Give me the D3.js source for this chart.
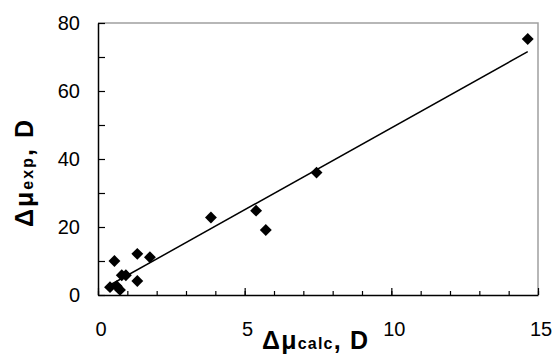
<!DOCTYPE html>
<html><head><meta charset="utf-8">
<script src="https://cdn.jsdelivr.net/npm/d3@7"></script>
<style>
body{margin:0;background:#fff;}
svg{display:block;font-family:"Liberation Sans",Arial,sans-serif;}
</style></head>
<body><svg id="c" width="554" height="359"></svg>
<script>
const calc = [0.41, 0.64, 0.75, 0.56, 0.81, 0.95, 1.34, 1.34, 1.77, 3.85, 5.39, 5.72, 7.45, 14.65];
const expv = [2.3, 2.6, 1.5, 10.0, 5.8, 5.8, 12.1, 4.1, 11.1, 22.8, 24.8, 19.1, 36.0, 75.3];
const fitSlope = 4.82, fitIntercept = 0.96;
const xTicks = [0, 5, 10, 15];
const yTicks = [0, 20, 40, 60, 80];

const svg = d3.select("#c");
const L = 98, R = 538, T = 23, B = 295;
const x = d3.scaleLinear().domain([0, 15]).range([L, R]);
const y = d3.scaleLinear().domain([0, 80]).range([B, T]);

// frame top/right gray
svg.append("path").attr("d", `M${L},${T}H${R}V${B}`).attr("fill","none").attr("stroke","#a0a0a0").attr("stroke-width",1.5);

// x minor ticks
svg.append("g").attr("transform",`translate(0,${B})`)
  .call(d3.axisBottom(x).tickValues(d3.range(0,16,1)).tickSize(-4).tickFormat(""))
  .call(g=>{g.select(".domain").remove(); g.selectAll("line").attr("stroke","#000").attr("stroke-width",1.2);});
// x major
const gx = svg.append("g").attr("transform",`translate(0,${B})`)
  .call(d3.axisBottom(x).tickValues(xTicks).tickSize(-7).tickSizeOuter(0).tickPadding(27).tickFormat(d3.format("d")));
gx.select(".domain").attr("stroke","#000").attr("stroke-width",1.5);
gx.selectAll("line").attr("stroke","#000").attr("stroke-width",1.2);
gx.selectAll("text").attr("font-size",20).attr("font-family","Liberation Sans, Arial, sans-serif").attr("fill","#000").attr("dx","2.5");

// y axis
const gy = svg.append("g").attr("transform",`translate(${L},0)`)
  .call(d3.axisLeft(y).tickValues(d3.range(0,81,10)).tickSize(-7).tickSizeOuter(0).tickPadding(18)
    .tickFormat(d => yTicks.includes(d) ? d : ""));
gy.select(".domain").attr("stroke","#000").attr("stroke-width",1.5);
gy.selectAll("line").attr("stroke","#000").attr("stroke-width",1.2);
gy.selectAll("text").attr("font-size",20).attr("font-family","Liberation Sans, Arial, sans-serif").attr("fill","#000");

// trend line
const x0 = d3.min(calc), x1 = d3.max(calc);
svg.append("line")
  .attr("x1", x(x0)).attr("y1", y(fitSlope*x0+fitIntercept))
  .attr("x2", x(x1)).attr("y2", y(fitSlope*x1+fitIntercept))
  .attr("stroke","#000").attr("stroke-width",1.5);

// markers
const diamond = d3.symbol().type(d3.symbolDiamond2).size(90);
svg.append("g").selectAll("path").data(calc.map((c,i)=>[c,expv[i]])).join("path")
  .attr("transform", d=>`translate(${x(d[0])},${y(d[1])})`)
  .attr("d", diamond).attr("fill","#000");

// x title
const xt = svg.append("text").attr("x", 262).attr("y", 349)
  .attr("font-weight","bold").attr("font-size",25).attr("fill","#000")
  .attr("textLength",106).attr("lengthAdjust","spacing");
xt.append("tspan").text("Δμ");
xt.append("tspan").attr("font-size",16).text("calc");
xt.append("tspan").text(", D");

// y title
const yt = svg.append("text").attr("transform","translate(33,227) rotate(-90)")
  .attr("font-weight","bold").attr("font-size",25).attr("fill","#000")
  .attr("textLength",107).attr("lengthAdjust","spacing");
yt.append("tspan").text("Δμ");
yt.append("tspan").attr("font-size",16).text("exp");
yt.append("tspan").text(", D");
</script></body></html>
